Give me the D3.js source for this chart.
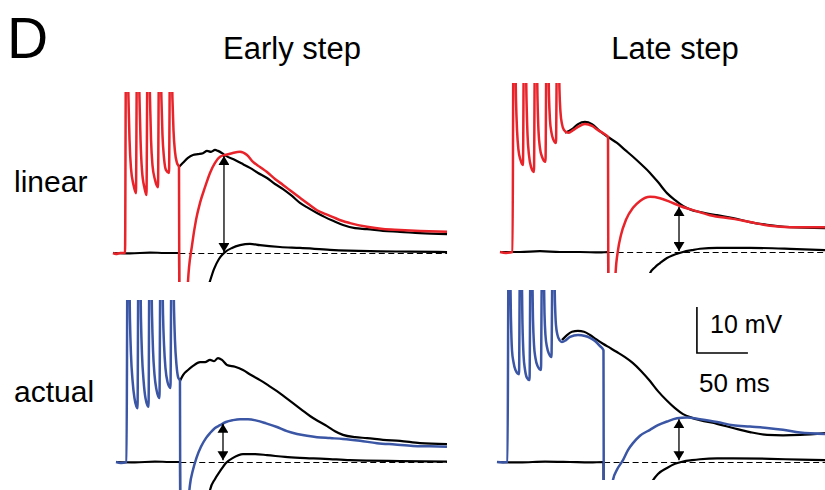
<!DOCTYPE html>
<html>
<head>
<meta charset="utf-8">
<script src="https://cdn.jsdelivr.net/npm/d3@7"></script>
<style>
  html, body { margin: 0; padding: 0; background: #fff; }
  text { font-family: "Liberation Sans", Arial, sans-serif; fill: #000; }
</style>
</head>
<body>
<div id="chart"></div>
<script>
// Traces as [time (ms), voltage (mV re. baseline)]

// ---- linear, early step ----
const linEarlyRed = [
  [0,0],[3,-0.2],[7,0],[11.8,0],[12.7,42],[14.2,42],[15.2,33.3],[16.2,24.6],[17.6,18.5],[20.1,14.8],[22.5,13],
  [23.5,42],[25,42],[26,33.3],[27,24.6],[28.4,18],[30.9,14.1],[32.8,12.6],
  [33.8,42],[35.3,42],[36.3,33.3],[37.3,24.6],[38.7,19.1],[41.2,15.9],[44.1,14.3],
  [45.1,42],[46.6,42],[47.5,33.3],[48.5,25.7],[50,20.7],[52,18],[54.9,17.4],
  [55.9,42],[57.4,42],[58.3,33.3],[59.3,26.7],[60.8,22],[62.7,19.6],[64.7,18.7],
  [65,-10],[65.3,-40],[71.6,-16.7],[73.5,-6.3],[77.5,1.7],[81.4,7.2],[85.3,10.9],[90.2,14.3],
  [95.1,17.4],[100,19.6],[104.9,20.9],[109.8,21.3],[116.7,21.7],[124.5,22],[131.4,21.3],[137.3,19.8],
  [144.1,18.7],[151,17.6],[158.8,16.1],[166.7,14.8],[175.5,13.3],[183.3,12],[191.2,10.7],[200,9.3],
  [207.8,8.5],[215.7,7.8],[224.5,7],[232.4,6.5],[249,5.7],[264.7,5.2],[281.4,5],[301,4.8],[327.5,4.6]
];
const linEarlyCtrl = [
  [64.7,18.7],[68.6,19.6],[73.5,20.7],[78.4,21.3],[83.3,21.5],[88.2,21.7],[92.2,22.2],[96.1,22],
  [100,22.4],[102.9,22.2],[106.9,21.7],[110.8,21.1],[119.6,20.2],[127.5,19.3],[134.3,18.5],[142.2,17.4],
  [151,16.3],[158.8,15],[166.7,13.9],[175.5,12.4],[183.3,10.9],[191.2,9.8],[200,8.7],[207.8,7.8],
  [215.7,7],[225.5,6.1],[237.3,5.4],[249,5.2],[264.7,4.8],[281.4,4.6],[301,4.3],[327.5,4.1]
];
const linEarlyPassive = [
  [0,0],[16.7,-0.1],[36.3,0.1],[51,0],[64.7,0],[65,-16.7],[65.3,-40],[87.3,-14.6],[90.2,-9.8],
  [95.1,-6.1],[99,-3.5],[103.9,-1.3],[109.8,0.2],[116.7,1.1],[124.5,1.7],[134.3,2],[144.1,1.7],
  [163.7,1.3],[183.3,1.1],[212.7,0.7],[252,0.4],[291.2,0.3],[327.5,0.2]
];
const linEarlyArrow = [108.8, 0.2, 21.1];   // time, bottom, top
const linEarlyDash = [65, 327.5];

// ---- linear, late step ----
const linLateRed = [
  [0,0],[5.9,-0.2],[12.3,0],[13.2,46.1],[14.7,46.1],[15.7,33],[16.7,26.5],[18.1,22.2],[20.1,20],[22.5,18.9],
  [23.5,46.1],[25,46.1],[26,33],[27,25.4],[28.4,21.1],[30.4,18.5],[33.3,17.4],
  [34.3,46.1],[35.8,46.1],[36.8,33],[37.7,26.5],[39.2,22.6],[41.2,20.7],[44.6,19.6],
  [45.6,46.1],[47.1,46.1],[48,34.1],[49,28.7],[50.5,25.9],[52,24.6],[54.9,23.7],
  [55.9,46.1],[57.4,46.1],[58.3,35.2],[59.3,30.4],[60.8,27.8],[62.7,26.5],[66.7,25.9],
  [71.6,26.5],[76.5,27.2],[83.3,27.8],[90.2,27.4],[96.1,26.5],[102,25.7],[105.9,25],
  [106.2,-10.4],[106.5,-40],[111.8,-17],[113.2,-5],[115.7,0.4],[118.6,3.7],[123.5,7],[130.4,9.6],
  [137.3,11.1],[147.1,12],[156.9,11.7],[166.7,10.9],[176.5,10],[189.2,9.1],[205.9,8],[228.4,7.2],
  [245.1,6.5],[264.7,5.7],[284.3,5.4],[318.6,5.4]
];
const linLateCtrl = [
  [63.7,25.9],[70.6,26.7],[76.5,27.8],[83.3,28.3],[90.2,27.8],[98,26.3],[105.9,25],[114.7,23.7],
  [122.5,22.2],[130.4,20.7],[139.2,18.9],[147.1,17.2],[154.9,15.2],[163.7,12.8],[171.6,11.3],[179.4,10],
  [188.2,9.1],[196.1,8.7],[212.7,8],[228.4,7.4],[245.1,6.5],[261.8,5.9],[284.3,5.4],[318.6,5.2]
];
const linLatePassive = [
  [0,0],[19.6,0],[39.2,0.2],[58.8,0],[78.4,0],[98,-0.1],[105.9,0],[106.2,-17],[106.5,-40],
  [137.3,-17],[142.2,-8.3],[147.1,-4.6],[152,-3.3],[156.9,-2.4],[163.7,-1.3],[169.6,-0.7],[179.4,0],
  [188.2,0.4],[196.1,0.7],[212.7,0.9],[245.1,0.9],[284.3,0.7],[318.6,0.4]
];
const linLateArrow = [175.5, 0.2, 9.8];
const linLateDash = [106, 318.6];

// ---- actual, early step ----
const actEarlyBlue = [
  [0,0],[4.9,-0.2],[10.3,0],[11.3,46.1],[12.7,46.1],[13.7,30.9],[14.7,23.3],[16.2,17.8],[18.1,13.9],[21.1,11.7],
  [22,46.1],[23.5,46.1],[24.5,30.9],[25.5,23.3],[27,17.8],[28.9,13.9],[31.9,12],
  [32.8,46.1],[34.3,46.1],[35.3,32],[36.3,24.3],[37.7,19.1],[39.7,15.7],[42.6,13.9],
  [43.6,46.1],[45.1,46.1],[46.1,32],[47.1,25.4],[48.5,20.4],[50.5,17.4],[53.4,16.1],
  [54.4,46.1],[55.9,46.1],[56.9,33],[57.8,26.5],[59.3,21.1],[60.8,18.5],[62.7,17.6],
  [63,-12.6],[63.3,-40],[69.6,-12.6],[72.5,-5],[75.5,-1.7],[78.9,0.9],[83.3,3.3],[88.2,5.2],
  [92.2,6.3],[97.1,7.4],[102,8],[107.8,8.7],[114.7,9.1],[121.6,9.3],[129.4,9.3],[137.9,9],
  [147.1,8.4],[157.8,7.6],[167.6,6.7],[177.5,6.1],[187.3,5.7],[197.1,5.4],[209.8,5.2],[222.5,5],
  [239.2,4.6],[255.9,4.1],[273.5,3.8],[291.2,3.5],[307.8,3.4],[324.5,3.3]
];
const actEarlyCtrl = [
  [62.7,17.6],[65.7,18.9],[70.6,20],[75.5,20.9],[82.4,21.7],[87.3,21.7],[92.2,22.2],[96.1,21.9],
  [100,22.6],[103.9,22.2],[108.8,21.1],[116.7,20.7],[124.5,20],[132.4,18.9],[141.2,17.8],[149,16.7],
  [157.8,15.4],[165.7,14.1],[173.5,12.8],[182.4,11.3],[190.2,10],[198,8.9],[206.9,7.8],[214.7,6.7],
  [222.5,5.9],[234.3,5.4],[246.1,5.2],[261.8,4.8],[278.4,4.6],[298,4.1],[324.5,3.9]
];
const actEarlyPassive = [
  [0,0],[18.6,-0.1],[38.2,0.1],[52.9,0],[62.7,0],[63,-17],[63.3,-40],[87.3,-14.8],[92.2,-6.1],
  [97.1,-3.7],[102,-2],[107.8,-0.2],[114.7,0.9],[124.5,1.7],[136.3,1.7],[148,1.5],[165.7,1.1],
  [180.4,0.9],[204.9,0.7],[229.4,0.4],[278.4,0.2],[324.5,0.1]
];
const actEarlyArrow = [104.9, 0.4, 8.3];
const actEarlyDash = [63, 324.5];

// ---- actual, late step ----
const actLateBlue = [
  [0,0],[5.9,-0.1],[10.3,0],[11.3,43.9],[12.7,43.9],[13.7,30.9],[14.7,24.3],[16.2,21.7],[18.1,20],[21.6,19.1],
  [22.5,43.9],[24,43.9],[25,29.8],[26,23.3],[27.5,20],[29.4,18.3],[31.9,17.8],
  [32.8,43.9],[34.3,43.9],[35.3,30.9],[36.3,25.4],[37.7,22.6],[39.7,20.9],[43.1,20],
  [44.1,43.9],[45.6,43.9],[46.6,32],[47.5,27.6],[49,25],[51,23.5],[53.4,22.8],
  [54.4,43.9],[55.9,43.9],[56.9,34.1],[57.8,29.8],[59.3,27.6],[61.3,26.5],[63.7,26.1],
  [67.6,26.5],[71.6,27.2],[79.4,27.6],[86.3,27.4],[91.2,27],[96.1,26.3],[101,25.2],[104.4,24.3],
  [104.7,-12.6],[105,-40],[111.8,-12.6],[113.7,-3.9],[117.6,-1.7],[123.5,0.4],[128.4,2.6],[133.3,4.1],
  [140.2,5.7],[150,7],[157.8,8],[166.7,8.8],[176.5,9.5],[186.3,9.7],[199,9.3],[215.7,8.7],
  [231.4,8],[248,7.7],[264.7,7.4],[280.4,7],[297.1,6.4],[321.6,6.1]
];
const actLateCtrl = [
  [63.7,26.5],[68.6,27.6],[73.5,28.3],[79.4,28.5],[85.3,28.3],[91.2,27.6],[97.1,26.7],[103.9,25.7],
  [110.8,24.8],[117.6,23.9],[125.5,22.8],[133.3,21.5],[141.2,19.8],[150,17.6],[157.8,15.4],[166.7,13.3],
  [174.5,11.7],[182.4,10.4],[191.2,9.6],[199,9.1],[215.7,8.3],[231.4,7.4],[248,6.5],[264.7,5.9],
  [280.4,5.8],[297.1,5.9],[321.6,6.3]
];
const actLatePassive = [
  [0,0],[22.5,-0.1],[47.1,0.1],[71.6,0],[91.2,-0.1],[104.4,0],[104.7,-17],[105,-40],[140.2,-14.8],
  [148,-6.1],[152,-4.3],[157.8,-2.6],[166.7,-1.3],[174.5,-0.4],[182.4,0.1],[191.2,0.4],[199,0.6],
  [215.7,0.8],[231.4,0.8],[267.6,0.7],[297.1,0.5],[321.6,0.4]
];
const actLateArrow = [178.4, 0.4, 9.3];
const actLateDash = [105, 321.6];

// scale bar: 50 ms, 10 mV (drawn in the actual/late panel's units)
const scaleBar = { t: 196, v: 23.7, ms: 50, mV: 10 };

const colTitles = ["Early step", "Late step"];
const rowTitles = ["linear", "actual"];

const RED = "#e8232a";
const BLUE = "#3a56a5";

const W = 825, H = 490;
const pxPerMs = 1.02, pxPerMv = 4.6;

const panels = [
  { x0: 113, base: 253, top: 92, bottom: 282, right: 449, color: RED,
    trace: linEarlyRed, ctrl: linEarlyCtrl, passive: linEarlyPassive, arrow: linEarlyArrow, dash: linEarlyDash },
  { x0: 500, base: 252, top: 83, bottom: 273, right: 826, color: RED,
    trace: linLateRed, ctrl: linLateCtrl, passive: linLatePassive, arrow: linLateArrow, dash: linLateDash },
  { x0: 116, base: 462, top: 300, bottom: 490, right: 449, color: BLUE,
    trace: actEarlyBlue, ctrl: actEarlyCtrl, passive: actEarlyPassive, arrow: actEarlyArrow, dash: actEarlyDash },
  { x0: 497, base: 462, top: 290, bottom: 480, right: 826, color: BLUE,
    trace: actLateBlue, ctrl: actLateCtrl, passive: actLatePassive, arrow: actLateArrow, dash: actLateDash }
];

const svg = d3.select('#chart')
  .append('svg')
  .attr('width', W)
  .attr('height', H);

const defs = svg.append('defs');
defs.append('marker')
  .attr('id', 'head')
  .attr('viewBox', '0 0 10 10')
  .attr('refX', 10)
  .attr('refY', 5)
  .attr('markerWidth', 9)
  .attr('markerHeight', 11)
  .attr('markerUnits', 'userSpaceOnUse')
  .attr('preserveAspectRatio', 'none')
  .attr('orient', 'auto-start-reverse')
  .append('path')
  .attr('d', 'M0,0L10,5L0,10Z')
  .attr('fill', '#000');

panels.forEach((p, i) => {
  p.x = d3.scaleLinear().domain([0, 100]).range([p.x0, p.x0 + 100 * pxPerMs]);
  p.y = d3.scaleLinear().domain([0, 10]).range([p.base, p.base - 10 * pxPerMv]);

  defs.append('clipPath')
    .attr('id', 'clip' + i)
    .append('rect')
    .attr('x', p.x0 - 4)
    .attr('y', p.top)
    .attr('width', p.right - p.x0 + 4)
    .attr('height', p.bottom - p.top);

  const line = d3.line()
    .x(d => p.x(d[0]))
    .y(d => p.y(d[1]))
    .curve(d3.curveMonotoneX);

  const g = svg.append('g').attr('clip-path', `url(#clip${i})`);

  // dashed baseline after the step
  g.append('line')
    .attr('x1', p.x(p.dash[0])).attr('x2', p.x(p.dash[1]))
    .attr('y1', p.y(0) + 0.5).attr('y2', p.y(0) + 0.5)
    .attr('stroke', '#000')
    .attr('stroke-width', 1.1)
    .attr('stroke-dasharray', '6,3.5');

  // passive trace, control trace (black), then the coloured trace on top
  g.append('path')
    .attr('d', line(p.passive))
    .attr('fill', 'none')
    .attr('stroke', '#000')
    .attr('stroke-width', 2.2)
    .attr('stroke-linejoin', 'round');

  g.append('path')
    .attr('d', line(p.ctrl))
    .attr('fill', 'none')
    .attr('stroke', '#000')
    .attr('stroke-width', 2.2)
    .attr('stroke-linejoin', 'round');

  g.append('path')
    .attr('d', line(p.trace))
    .attr('fill', 'none')
    .attr('stroke', p.color)
    .attr('stroke-width', 2.5)
    .attr('stroke-linejoin', 'round');

  // double arrow
  svg.append('line')
    .attr('x1', p.x(p.arrow[0])).attr('x2', p.x(p.arrow[0]))
    .attr('y1', p.y(p.arrow[1])).attr('y2', p.y(p.arrow[2]))
    .attr('stroke', '#000')
    .attr('stroke-width', 1.3)
    .attr('marker-start', 'url(#head)')
    .attr('marker-end', 'url(#head)');
});

// scale bar
const sp = panels[3];
svg.append('path')
  .attr('d', `M${sp.x(scaleBar.t)},${sp.y(scaleBar.v + scaleBar.mV)}` +
             `L${sp.x(scaleBar.t)},${sp.y(scaleBar.v)}` +
             `L${sp.x(scaleBar.t + scaleBar.ms)},${sp.y(scaleBar.v)}`)
  .attr('fill', 'none')
  .attr('stroke', '#000')
  .attr('stroke-width', 1.6);

svg.append('text')
  .attr('x', 710).attr('y', 333)
  .style('font-size', '25px')
  .text(scaleBar.mV + ' mV');

svg.append('text')
  .attr('x', 699).attr('y', 392)
  .style('font-size', '26px')
  .text(scaleBar.ms + ' ms');

// labels
svg.append('text')
  .attr('x', 7).attr('y', 58)
  .style('font-size', '57px')
  .text('D');

svg.selectAll('.coltitle')
  .data(colTitles)
  .enter()
  .append('text')
  .attr('class', 'coltitle')
  .attr('x', (d, i) => i === 0 ? 292 : 675)
  .attr('y', 59)
  .attr('text-anchor', 'middle')
  .style('font-size', '31px')
  .text(d => d);

svg.selectAll('.rowtitle')
  .data(rowTitles)
  .enter()
  .append('text')
  .attr('class', 'rowtitle')
  .attr('x', 14)
  .attr('y', (d, i) => i === 0 ? 192 : 402)
  .style('font-size', '30px')
  .text(d => d);
</script>
</body>
</html>
